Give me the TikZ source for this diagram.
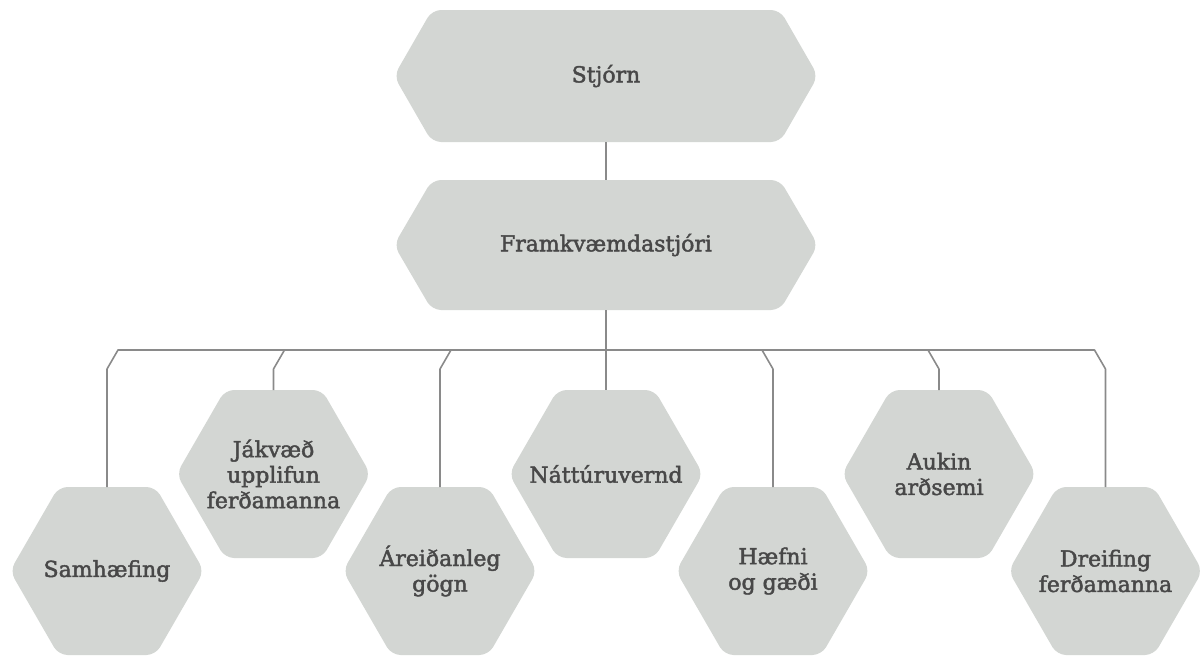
\documentclass[tikz,border=0pt]{standalone}
\usepackage{fontspec}
\setmainfont{DejaVu Serif}
\newfontfamily\lblfont{DejaVu Serif}[BoldFont={DejaVu Serif}, BoldFeatures={FakeBold=2}]
\usetikzlibrary{calc}
\definecolor{hexfill}{HTML}{D3D6D3}
\definecolor{txt}{HTML}{484848}
\definecolor{ln}{HTML}{8A8A8A}
% cx, cy, R (half width), h (half height), s (slant inset)
\newcommand\hexshape[5]{%
  \fill[hexfill, rounded corners=9pt] (#1-#3,#2) -- (#1-#3+#5,#2-#4) -- (#1+#3-#5,#2-#4)
    -- (#1+#3,#2) -- (#1+#3-#5,#2+#4) -- (#1-#3+#5,#2+#4) -- cycle;}
\tikzset{
  lbl/.style={font=\lblfont\bfseries\fontsize{22}{25.5}\selectfont, text=txt, align=center, inner sep=0pt},
  conn/.style={draw=ln, line width=1.6pt, line join=round}
}
\begin{document}
\begin{tikzpicture}[x=1pt,y=-1pt]
\useasboundingbox (0,0) rectangle (1200,656);
% top hexagons
\hexshape{606}{76}{212}{66}{38}
\node[lbl] (stjorn) at (606,76) {Stjórn};
\coordinate (stjorn-b) at (606,142);
\hexshape{606}{245}{212}{65}{38}
\node[lbl] (framk) at (606,245) {Framkvæmdastjóri};
\coordinate (framk-t) at (606,180);
\coordinate (framk-b) at (606,310);
% bottom hexagons
\hexshape{107}{571}{97}{84}{48.5}
\node[lbl] (samh) at (107,571) {Samhæfing};
\coordinate (samh-t) at (107,487);
\hexshape{273.5}{474}{97}{84}{48.5}
\node[lbl] (jakv) at (273.5,474) {Jákvæð\\upplifun\\ferðamanna};
\coordinate (jakv-t) at (273.5,390);
\hexshape{440}{571}{97}{84}{48.5}
\node[lbl] (areid) at (440,571) {Áreiðanleg\\gögn};
\coordinate (areid-t) at (440,487);
\hexshape{606}{474}{97}{84}{48.5}
\node[lbl] (natt) at (606,474) {Náttúruvernd};
\coordinate (natt-t) at (606,390);
\hexshape{773}{571}{97}{84}{48.5}
\node[lbl] (haefni) at (773,571) {Hæfni\\og gæði};
\coordinate (haefni-t) at (773,487);
\hexshape{939}{474}{97}{84}{48.5}
\node[lbl] (aukin) at (939,474) {Aukin\\arðsemi};
\coordinate (aukin-t) at (939,390);
\hexshape{1105.5}{571}{97}{84}{48.5}
\node[lbl] (dreif) at (1105.5,571) {Dreifing\\ferðamanna};
\coordinate (dreif-t) at (1105.5,487);
% connectors
\coordinate (bus) at (606,350);
\coordinate (knee) at (606,369);
\draw[conn] (stjorn-b) -- (framk-t);
\draw[conn] (framk-b) -- (natt-t);
\draw[conn] (samh-t) -- (samh-t |- knee) -- ++(11,-19) -- ($(dreif-t |- bus)+(-11,0)$) -- ++(11,19) -- (dreif-t);
\draw[conn] (jakv-t) -- (jakv-t |- knee) -- ++(11,-19);
\draw[conn] (areid-t) -- (areid-t |- knee) -- ++(11,-19);
\draw[conn] (haefni-t) -- (haefni-t |- knee) -- ++(-11,-19);
\draw[conn] (aukin-t) -- (aukin-t |- knee) -- ++(-11,-19);
\end{tikzpicture}
\end{document}
